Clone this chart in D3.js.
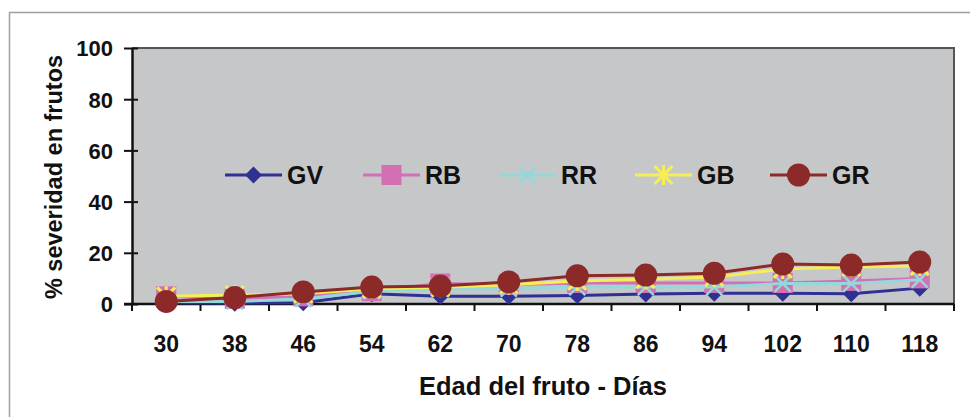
<!DOCTYPE html>
<html>
<head>
<meta charset="utf-8">
<script src="https://cdn.jsdelivr.net/npm/d3@7"></script>
<style>
  html, body { margin: 0; padding: 0; background: #fff; }
  svg { display: block; font-family: Arial, "Liberation Sans", sans-serif; }
</style>
</head>
<body>
<svg id="chart" width="970" height="417"></svg>
<script>
// Fruit age (days) on the x axis
const days = ["30", "38", "46", "54", "62", "70", "78", "86", "94", "102", "110", "118"];
const yTicks = [0, 20, 40, 60, 80, 100];

// % severity in fruits for each treatment
const seriesNames = ["GV", "RB", "RR", "GB", "GR"];
const gv = [0.5, 0.3, 0.5, 4, 3, 3, 3.3, 3.9, 4.2, 4.2, 4, 6.2];
const rb = [3, 2, 3, 5, 8, 7.5, 8.2, 8.2, 8.2, 8.2, 9, 10];
const rr = [1, 1, 2, 5, 6, 6, 6.6, 6.6, 6.6, 8, 8, 9.5];
const gb = [3, 3.5, 4, 6, 6.5, 7.5, 9, 9.7, 10.5, 13.7, 14.5, 14.8];
const gr = [1, 2.5, 4.7, 6.6, 7, 8.6, 11, 11.3, 12, 15.6, 15.2, 16.4];

const seriesValues = [gv, rb, rr, gb, gr];
const colors = ["#2e3192", "#d36fb5", "#93d9d9", "#f5ef55", "#8c2a2a"];
const shapes = ["diamond", "square", "x", "star", "circle"];

const svg = d3.select("#chart");
const M = { left: 132, top: 48, right: 954, bottom: 304 };
const FONT = "Arial, 'Liberation Sans', sans-serif";

// outer frame (top and left edges)
svg.append("line").attr("x1", 9).attr("y1", 12.5).attr("x2", 970).attr("y2", 12.5)
  .attr("stroke", "#a0a0a0").attr("stroke-width", 1.5);
svg.append("line").attr("x1", 9.5).attr("y1", 12).attr("x2", 9.5).attr("y2", 417)
  .attr("stroke", "#a0a0a0").attr("stroke-width", 1.5);

const x = d3.scaleBand().domain(days).range([M.left, M.right]);
const y = d3.scaleLinear().domain([0, 100]).range([M.bottom, M.top]);

// plot area
svg.append("rect")
  .attr("x", M.left).attr("y", M.top)
  .attr("width", M.right - M.left).attr("height", M.bottom - M.top)
  .attr("fill", "#c6c7c9");
svg.append("path")
  .attr("d", `M${M.left},${M.top}H${M.right}V${M.bottom}`)
  .attr("fill", "none").attr("stroke", "#555").attr("stroke-width", 2);

// y axis
const yAxis = svg.append("g").attr("transform", `translate(${M.left},0)`)
  .call(d3.axisLeft(y).tickValues(yTicks).tickSize(8).tickSizeOuter(0));
yAxis.select(".domain").attr("stroke", "#111").attr("stroke-width", 2.5);
yAxis.selectAll(".tick line").attr("stroke", "#111").attr("stroke-width", 2)
  .attr("x2", 6).attr("x1", -8);
yAxis.selectAll(".tick text")
  .attr("font-size", 22).attr("font-weight", "bold").attr("fill", "#111")
  .attr("font-family", FONT).attr("x", -19).attr("dy", "0.36em");

// x axis with ticks on the category boundaries
const xAxis = svg.append("g").attr("transform", `translate(0,${M.bottom})`);
xAxis.append("line").attr("x1", M.left - 8).attr("x2", M.right).attr("y1", 0).attr("y2", 0)
  .attr("stroke", "#111").attr("stroke-width", 2.5);
const bounds = days.map(d => x(d)).concat([M.right]);
xAxis.selectAll("line.tk").data(bounds).join("line").attr("class", "tk")
  .attr("x1", d => d).attr("x2", d => d).attr("y1", 0).attr("y2", 7)
  .attr("stroke", "#111").attr("stroke-width", 2);
xAxis.selectAll("text").data(days).join("text")
  .attr("x", d => x(d) + x.bandwidth() / 2).attr("y", 48)
  .attr("text-anchor", "middle").attr("font-size", 23).attr("font-weight", "bold")
  .attr("fill", "#111").text(d => d);

// axis titles
svg.append("text").attr("x", 543).attr("y", 395).attr("text-anchor", "middle")
  .attr("font-size", 25.5).attr("font-weight", "bold").attr("fill", "#111")
  .text("Edad del fruto - Días");
svg.append("text").attr("transform", "translate(62,177) rotate(-90)")
  .attr("text-anchor", "middle").attr("font-size", 23.5).attr("font-weight", "bold")
  .attr("fill", "#111").text("% severidad en frutos");

// marker drawing
function marker(g, shape, color, cx, cy) {
  if (shape === "diamond") {
    g.append("path").attr("d", `M${cx},${cy - 8.5}L${cx + 8.5},${cy}L${cx},${cy + 8.5}L${cx - 8.5},${cy}Z`)
      .attr("fill", color);
  } else if (shape === "square") {
    g.append("rect").attr("x", cx - 10).attr("y", cy - 10).attr("width", 20).attr("height", 20)
      .attr("fill", color);
  } else if (shape === "x") {
    g.append("path").attr("d", `M${cx - 8},${cy - 8}L${cx + 8},${cy + 8}M${cx + 8},${cy - 8}L${cx - 8},${cy + 8}`)
      .attr("stroke", color).attr("stroke-width", 2.5).attr("fill", "none");
  } else if (shape === "star") {
    g.append("path").attr("d",
      `M${cx - 9},${cy - 9}L${cx + 9},${cy + 9}M${cx + 9},${cy - 9}L${cx - 9},${cy + 9}M${cx},${cy - 10}V${cy + 10}`)
      .attr("stroke", color).attr("stroke-width", 3).attr("fill", "none");
  } else {
    g.append("circle").attr("cx", cx).attr("cy", cy).attr("r", 11.5).attr("fill", color);
  }
}

const line = d3.line().x((d, i) => x(days[i]) + x.bandwidth() / 2).y(d => y(d));

seriesValues.forEach((vals, s) => {
  const g = svg.append("g");
  g.append("path").attr("d", line(vals)).attr("fill", "none")
    .attr("stroke", colors[s]).attr("stroke-width", 3);
  vals.forEach((v, i) => marker(g, shapes[s], colors[s], x(days[i]) + x.bandwidth() / 2, y(v)));
});

// legend
const legendX = [225, 363, 499, 635, 770];
seriesNames.forEach((name, s) => {
  const g = svg.append("g");
  const lx = legendX[s], ly = 175;
  g.append("line").attr("x1", lx).attr("x2", lx + 57).attr("y1", ly).attr("y2", ly)
    .attr("stroke", colors[s]).attr("stroke-width", 3);
  marker(g, shapes[s], colors[s], lx + 28.5, ly);
  g.append("text").attr("x", lx + 62).attr("y", ly + 9).attr("font-size", 25)
    .attr("font-weight", "bold").attr("fill", "#111").text(name);
});
</script>
</body>
</html>
